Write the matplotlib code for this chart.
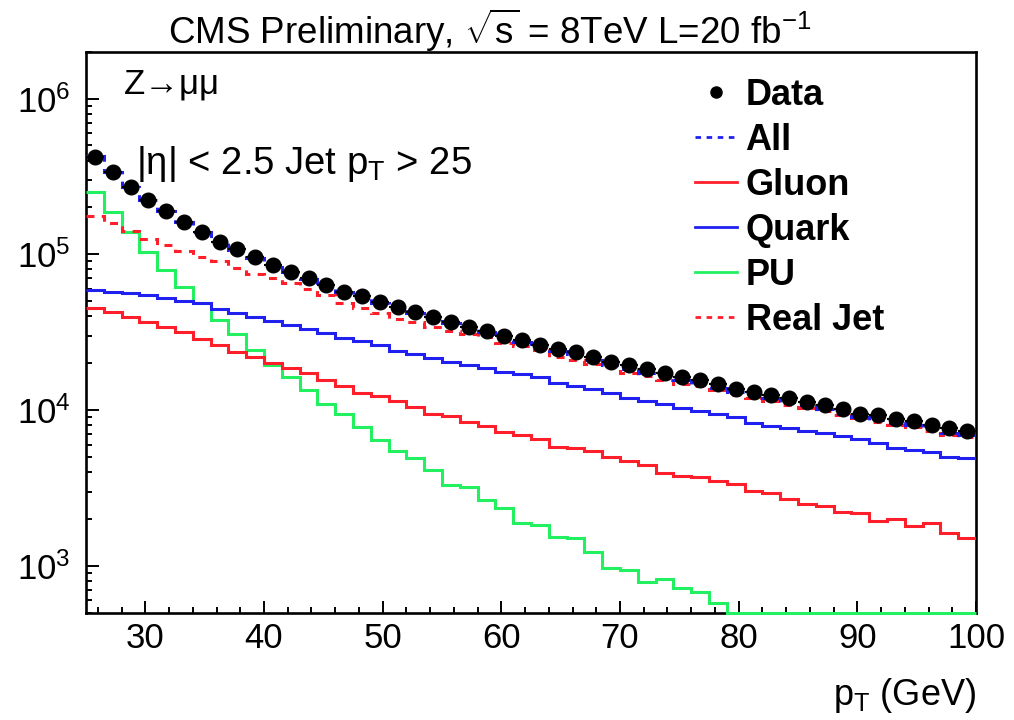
import numpy as np
import matplotlib
matplotlib.use("Agg")
import matplotlib.pyplot as plt
from matplotlib.lines import Line2D
from matplotlib.ticker import MultipleLocator, LogLocator, NullFormatter

plt.rcParams["font.family"] = ["Liberation Sans", "DejaVu Sans"]
plt.rcParams["mathtext.fontset"] = "custom"
plt.rcParams["mathtext.rm"] = "Liberation Sans"
plt.rcParams["mathtext.it"] = "Liberation Sans:italic"
plt.rcParams["mathtext.bf"] = "Liberation Sans:bold"

# jet pT binning: 50 bins of 1.5 GeV from 25 to 100 GeV
pt_edges = np.linspace(25.0, 100.0, 51)

data = [4.22e5, 3.36e5, 2.71e5, 2.23e5, 1.89e5, 1.62e5, 1.39e5, 1.20e5, 1.08e5, 9.55e4,
        8.53e4, 7.73e4, 7.00e4, 6.34e4, 5.74e4, 5.39e4, 4.91e4, 4.56e4, 4.28e4, 3.97e4,
        3.69e4, 3.43e4, 3.21e4, 3.00e4, 2.81e4, 2.61e4, 2.46e4, 2.35e4, 2.20e4, 2.04e4,
        1.94e4, 1.83e4, 1.72e4, 1.62e4, 1.56e4, 1.47e4, 1.36e4, 1.31e4, 1.25e4, 1.19e4,
        1.13e4, 1.08e4, 1.01e4, 9.50e3, 9.29e3, 8.75e3, 8.50e3, 8.00e3, 7.63e3, 7.36e3]

all_jets = [4.25e5, 3.40e5, 2.72e5, 2.24e5, 1.90e5, 1.62e5, 1.39e5, 1.20e5, 1.07e5, 9.50e4,
            8.50e4, 7.70e4, 6.95e4, 6.30e4, 5.70e4, 5.30e4, 4.85e4, 4.50e4, 4.20e4, 3.90e4,
            3.62e4, 3.37e4, 3.15e4, 2.94e4, 2.75e4, 2.56e4, 2.40e4, 2.28e4, 2.09e4, 1.94e4,
            1.83e4, 1.73e4, 1.64e4, 1.56e4, 1.45e4, 1.38e4, 1.31e4, 1.25e4, 1.19e4, 1.13e4,
            1.08e4, 1.02e4, 9.50e3, 9.07e3, 8.63e3, 8.28e3, 8.01e3, 7.52e3, 7.08e3, 6.92e3]

gluon = [4.54e4, 4.28e4, 3.97e4, 3.69e4, 3.43e4, 3.15e4, 2.86e4, 2.61e4, 2.37e4, 2.18e4,
         2.01e4, 1.85e4, 1.72e4, 1.57e4, 1.43e4, 1.29e4, 1.23e4, 1.14e4, 1.04e4, 9.50e3,
         9.20e3, 8.40e3, 7.90e3, 7.20e3, 6.90e3, 6.50e3, 5.80e3, 5.70e3, 5.48e3, 5.02e3,
         4.71e3, 4.44e3, 3.96e3, 3.79e3, 3.73e3, 3.50e3, 3.35e3, 3.02e3, 2.92e3, 2.68e3,
         2.49e3, 2.41e3, 2.22e3, 2.17e3, 1.95e3, 1.99e3, 1.81e3, 1.87e3, 1.63e3, 1.51e3]

quark = [5.89e4, 5.74e4, 5.61e4, 5.45e4, 5.26e4, 5.03e4, 4.84e4, 4.43e4, 4.17e4, 3.93e4,
         3.72e4, 3.51e4, 3.34e4, 3.13e4, 2.91e4, 2.77e4, 2.61e4, 2.39e4, 2.29e4, 2.15e4,
         2.04e4, 1.94e4, 1.87e4, 1.76e4, 1.70e4, 1.62e4, 1.50e4, 1.43e4, 1.36e4, 1.28e4,
         1.20e4, 1.14e4, 1.09e4, 1.03e4, 9.86e3, 9.42e3, 8.97e3, 8.28e3, 7.89e3, 7.69e3,
         7.33e3, 7.10e3, 6.81e3, 6.49e3, 6.17e3, 5.68e3, 5.54e3, 5.40e3, 5.01e3, 4.90e3]

pileup = [2.52e5, 1.87e5, 1.39e5, 1.04e5, 7.90e4, 6.20e4, 4.84e4, 3.78e4, 3.10e4, 2.43e4,
          1.94e4, 1.62e4, 1.34e4, 1.10e4, 9.50e3, 7.80e3, 6.40e3, 5.50e3, 4.90e3, 4.10e3,
          3.30e3, 3.20e3, 2.64e3, 2.34e3, 1.87e3, 1.83e3, 1.54e3, 1.50e3, 1.23e3, 966,
          940, 790, 819, 717, 676, 574, 0, 0, 0, 0,
          0, 0, 0, 0, 0, 0, 0, 0, 0, 0]

real_jet = [1.77e5, 1.58e5, 1.42e5, 1.25e5, 1.15e5, 1.05e5, 9.60e4, 9.00e4, 8.20e4, 7.50e4,
            7.00e4, 6.50e4, 6.00e4, 5.45e4, 4.90e4, 4.50e4, 4.17e4, 3.82e4, 3.66e4, 3.40e4,
            3.21e4, 3.07e4, 2.95e4, 2.70e4, 2.58e4, 2.43e4, 2.18e4, 2.11e4, 1.99e4, 1.88e4,
            1.72e4, 1.65e4, 1.57e4, 1.48e4, 1.43e4, 1.34e4, 1.25e4, 1.19e4, 1.15e4, 1.08e4,
            1.03e4, 9.90e3, 9.29e3, 8.85e3, 8.42e3, 8.01e3, 7.82e3, 7.36e3, 6.92e3, 6.69e3]

labels = ["Data", "All", "Gluon", "Quark", "PU", "Real Jet"]

RED = "#ff1f2a"
BLUE = "#2020f0"
GREEN = "#22f060"

Y_MIN, Y_MAX = 500.0, 2.0e6

fig = plt.figure(figsize=(10.14, 7.2), dpi=100)
ax = fig.add_axes([86 / 1014, 1 - 612.7 / 720, 890 / 1014, 561 / 720])
ax.set_yscale("log")
ax.set_xlim(25, 100)
ax.set_ylim(Y_MIN, Y_MAX)

centers = 0.5 * (pt_edges[:-1] + pt_edges[1:])
half_width = 0.5 * np.diff(pt_edges)

def floor(vals):
    # bins below the visible range sit on the lower frame edge
    return np.maximum(np.asarray(vals, dtype=float), Y_MIN)

lw = 2.2
dash = (0, (2.6, 2.4))
ax.stairs(floor(pileup), pt_edges, color=GREEN, lw=lw, baseline=None, zorder=3, clip_on=False)
ax.stairs(floor(gluon), pt_edges, color=RED, lw=lw, baseline=None, zorder=3)
ax.stairs(floor(quark), pt_edges, color=BLUE, lw=lw, baseline=None, zorder=3)
ax.stairs(floor(real_jet), pt_edges, color=RED, lw=lw, ls=dash, baseline=None, zorder=3)
ax.stairs(floor(all_jets), pt_edges, color=BLUE, lw=lw, ls=dash, baseline=None, zorder=3)
ax.errorbar(centers, data, xerr=half_width, fmt="o", color="black", ms=10.5,
            elinewidth=1.5, capsize=0, zorder=4)

# axis styling
for s in ax.spines.values():
    s.set_linewidth(1.9)
ax.xaxis.set_major_locator(MultipleLocator(10))
ax.xaxis.set_minor_locator(MultipleLocator(2))
ax.yaxis.set_major_locator(LogLocator(base=10))
ax.yaxis.set_minor_locator(LogLocator(base=10, subs=np.arange(2, 10)))
ax.yaxis.set_minor_formatter(NullFormatter())
ax.tick_params(which="both", direction="in", top=False, right=False, width=1.4)
ax.tick_params(which="major", length=9)
ax.tick_params(which="minor", length=4.5)
ax.tick_params(axis="x", which="major", labelsize=25, pad=7)
ax.tick_params(axis="y", which="major", labelsize=25, pad=11)

ax.set_xlabel(r"p$_\mathregular{T}$ (GeV)", fontsize=26, loc="right", labelpad=15)

fig.text(0.483, 0.958, r"CMS Preliminary, $\sqrt{\mathregular{s}}$ = 8TeV L=20 fb$^{\mathregular{-1}}$",
         ha="center", va="center", fontsize=26.5)
ax.text(0.042, 0.942, "Z→μμ", transform=ax.transAxes, fontsize=25, va="center", ha="left")
ax.text(0.056, 0.80, r"|η| < 2.5 Jet p$_\mathregular{T}$ > 25", transform=ax.transAxes,
        fontsize=27.5, va="center", ha="left")

handles = [
    Line2D([], [], color="black", marker="o", ls="none", ms=8),
    Line2D([], [], color=BLUE, lw=2, ls=(0, (2, 2))),
    Line2D([], [], color=RED, lw=2),
    Line2D([], [], color=BLUE, lw=2),
    Line2D([], [], color=GREEN, lw=2),
    Line2D([], [], color=RED, lw=2, ls=(0, (2, 2))),
]
leg = ax.legend(handles, labels, loc="upper left", bbox_to_anchor=((695 - 86) / 890, 0.954),
                frameon=False, prop={"weight": "bold", "size": 26},
                handlelength=1.15, handletextpad=0.25, labelspacing=0.28,
                borderaxespad=0.0, borderpad=0.0)

fig.savefig("out.png", dpi=100)
